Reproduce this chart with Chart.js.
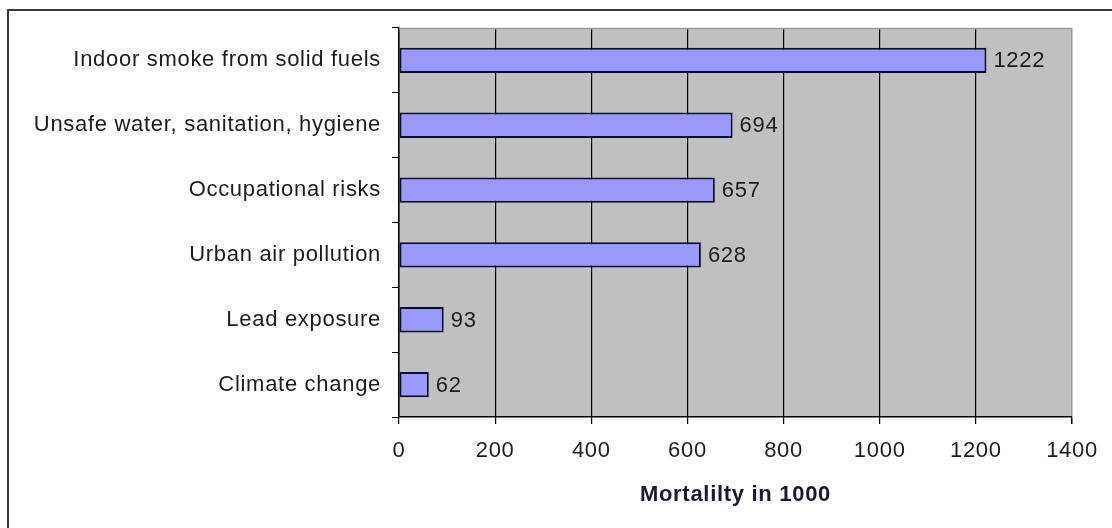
<!DOCTYPE html>
<html>
<head>
<meta charset="utf-8">
<script src="https://cdn.jsdelivr.net/npm/chart.js@4.4.1/dist/chart.umd.min.js"></script>
<style>
  html, body { margin: 0; padding: 0; background: #ffffff; }
  #wrap { position: relative; width: 1112px; height: 528px; overflow: hidden; }
  #frame { position: absolute; left: 7px; top: 9px; width: 1300px; height: 700px;
           border-top: 2px solid #3a3a3a; border-left: 2px solid #3a3a3a; }
  canvas { position: absolute; left: 0; top: 0; }
</style>
</head>
<body>
<div id="wrap">
  <div id="frame"></div>
  <canvas id="c" width="1112" height="528"></canvas>
</div>
<script>
// Environmental risk factors and attributable deaths (thousands)
const categories = [
  'Indoor smoke from solid fuels',
  'Unsafe water, sanitation, hygiene',
  'Occupational risks',
  'Urban air pollution',
  'Lead exposure',
  'Climate change'
];
const deaths = [1222, 694, 657, 628, 93, 62];
const xMin = 0;
const xMax = 1400;
const xStep = 200;
const xTitle = 'Mortalilty in 1000';

const FONT = "'Liberation Sans', Arial, sans-serif";
const TEXT = '#1c1c1c';
const LABEL_SIZE = 22;

// Grey plot background plus grey top edge; slightly open letter spacing for all text
const plotFrame = {
  id: 'plotFrame',
  beforeDraw(chart) {
    const { ctx, chartArea: a } = chart;
    if ('letterSpacing' in ctx) ctx.letterSpacing = '0.7px';
    ctx.save();
    ctx.fillStyle = '#c0c0c0';
    ctx.fillRect(a.left, a.top, a.right - a.left, a.bottom - a.top);
    ctx.restore();
  },
  afterDraw(chart) {
    const { ctx, chartArea: a } = chart;
    ctx.save();
    ctx.strokeStyle = '#9a9a9a';
    ctx.lineWidth = 1.5;
    ctx.beginPath();
    ctx.moveTo(a.left, a.top + 0.5);
    ctx.lineTo(a.right, a.top + 0.5);
    ctx.stroke();
    ctx.restore();
  }
};

// Value printed just past the end of each bar
const barValues = {
  id: 'barValues',
  afterDatasetsDraw(chart) {
    const { ctx } = chart;
    const meta = chart.getDatasetMeta(0);
    ctx.save();
    ctx.font = LABEL_SIZE + 'px ' + FONT;
    ctx.fillStyle = TEXT;
    ctx.textAlign = 'left';
    ctx.textBaseline = 'middle';
    meta.data.forEach((bar, i) => {
      ctx.fillText(String(deaths[i]), bar.x + 7, bar.y + 1);
    });
    ctx.restore();
  }
};

new Chart(document.getElementById('c'), {
  type: 'bar',
  data: {
    labels: categories,
    datasets: [{
      data: deaths,
      backgroundColor: '#9999ff',
      borderColor: '#0c0c30',
      borderWidth: 2,
      borderSkipped: false,
      barPercentage: 0.39,
      categoryPercentage: 1.0
    }]
  },
  options: {
    indexAxis: 'y',
    responsive: false,
    animation: false,
    layout: { padding: { top: 28, right: 40, left: 0, bottom: 0 } },
    plugins: { legend: { display: false }, tooltip: { enabled: false } },
    scales: {
      y: {
        afterFit(scale) { scale.width = 399; },
        grid: {
          offset: true,
          drawOnChartArea: false,
          drawTicks: true,
          tickLength: 7,
          color: '#000000',
          lineWidth: 1
        },
        border: { display: true, color: '#000000', width: 1.5 },
        ticks: {
          padding: 11,
          color: TEXT,
          font: { family: FONT, size: LABEL_SIZE }
        }
      },
      x: {
        min: xMin,
        max: xMax,
        afterFit(scale) { scale.height = 111; },
        grid: {
          drawOnChartArea: true,
          drawTicks: true,
          tickLength: 7,
          color: (c) => (c.tick && c.tick.value === xMax) ? '#9a9a9a' : '#000000',
          tickColor: '#000000',
          lineWidth: (c) => (c.tick && c.tick.value === xMax) ? 1.5 : 1.2
        },
        border: { display: true, color: '#000000', width: 1.5 },
        ticks: {
          stepSize: xStep,
          padding: 14,
          color: TEXT,
          font: { family: FONT, size: LABEL_SIZE },
          callback: (v) => String(v)
        },
        title: {
          display: true,
          text: xTitle,
          color: '#1a1a2a',
          font: { family: FONT, size: 22, weight: 'bold' },
          padding: { top: 0, bottom: 20 }
        }
      }
    }
  },
  plugins: [plotFrame, barValues]
});
</script>
</body>
</html>
